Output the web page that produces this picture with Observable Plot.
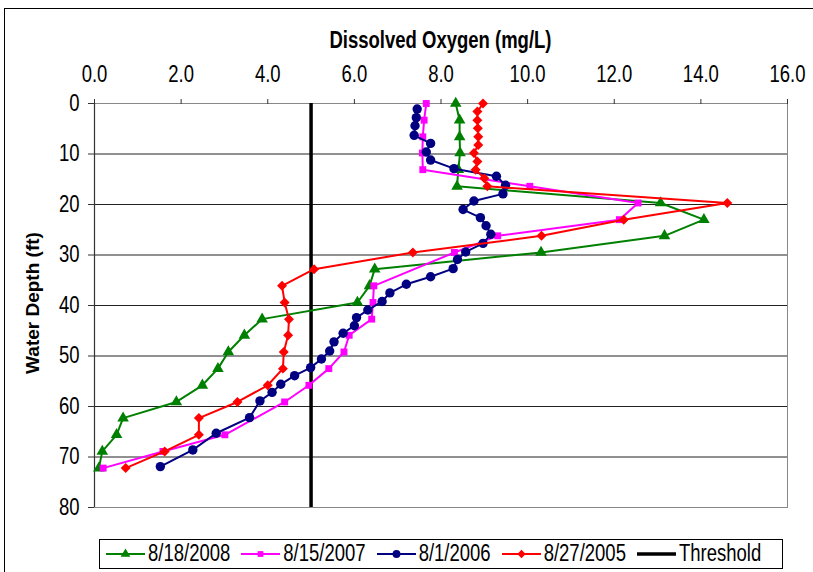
<!DOCTYPE html>
<html>
<head>
<meta charset="utf-8">
<script src="https://cdn.jsdelivr.net/npm/d3@7"></script>
<script src="https://cdn.jsdelivr.net/npm/@observablehq/plot@0.6"></script>
<style>
  html, body { margin: 0; padding: 0; background: #fff; }
  #wrap { position: relative; width: 813px; height: 572px; overflow: hidden; font-family: "Liberation Sans", Arial, sans-serif; background: #fff; }
  #outer { position: absolute; left: 4px; top: 8px; width: 900px; height: 700px; border: 1px solid #000; box-sizing: border-box; }
  #chart { position: absolute; left: 0; top: 0; }
  .title { position: absolute; left: 0; width: 881px; top: 29px; text-align: center; font-weight: bold; font-size: 18.5px; transform: scaleY(1.25); }
  .ylab { position: absolute; left: 33px; top: 303px; font-weight: bold; font-size: 19px; white-space: nowrap; transform: translate(-50%, -50%) rotate(-90deg); }
  #legend { position: absolute; left: 99px; top: 539px; width: 684px; height: 30px; border: 1px solid #000; box-sizing: border-box; display: flex; align-items: center; padding-left: 6px; gap: 11px; background: #fff; }
  .item { display: flex; align-items: center; gap: 3px; }
  .item span { display: inline-block; font-size: 18.5px; transform: scaleY(1.25); line-height: 1; }
</style>
</head>
<body>
<div id="wrap">
  <div id="outer"></div>
  <div id="chart"></div>
  <div class="title">Dissolved Oxygen (mg/L)</div>
  <div class="ylab">Water Depth (ft)</div>
  <div id="legend"></div>
</div>
<script>
// ---- Data ----
const seriesNames = ["8/18/2008", "8/15/2007", "8/1/2006", "8/27/2005"];
const xTicks = [0, 2, 4, 6, 8, 10, 12, 14, 16];
const yTicks = [0, 10, 20, 30, 40, 50, 60, 70, 80];
const threshold = 5.0;

const depth2008 = [0, 3.3, 6.6, 9.8, 13.1, 16.4, 19.7, 23.0, 26.2, 29.5, 32.8, 36.1, 39.4, 42.7, 45.9, 49.2, 52.5, 55.8, 59.1, 62.3, 65.6, 68.9, 72.2];
const do2008 = [8.34, 8.43, 8.43, 8.44, 8.40, 8.37, 13.07, 14.07, 13.16, 10.31, 6.47, 6.35, 6.07, 3.87, 3.46, 3.09, 2.85, 2.49, 1.89, 0.66, 0.51, 0.18, 0.10];

const depth2007 = [0, 3.3, 6.6, 9.8, 13.1, 16.4, 19.7, 23.0, 26.2, 29.5, 36.1, 39.4, 42.7, 45.9, 49.2, 52.5, 55.8, 59.1, 65.6, 68.9, 72.2];
const do2007 = [7.66, 7.61, 7.58, 7.57, 7.58, 10.05, 12.55, 12.12, 9.31, 8.31, 6.45, 6.43, 6.40, 5.88, 5.76, 5.41, 4.95, 4.39, 3.01, 1.58, 0.20];

const depth2006 = [1.1, 2.8, 4.4, 6.3, 7.9, 9.6, 11.2, 12.9, 14.4, 16.2, 17.9, 19.3, 21.0, 22.6, 24.2, 25.9, 27.7, 29.4, 30.9, 32.7, 34.3, 35.8, 37.5, 39.2, 40.9, 42.4, 44.0, 45.5, 47.2, 49.0, 50.6, 52.3, 53.9, 55.6, 57.2, 58.9, 62.2, 65.3, 68.6, 71.9];
const do2006 = [7.45, 7.43, 7.40, 7.38, 7.76, 7.66, 7.76, 8.30, 9.28, 9.49, 9.43, 8.76, 8.51, 8.91, 9.04, 9.15, 8.97, 8.57, 8.38, 8.28, 7.76, 7.20, 6.82, 6.64, 6.31, 6.05, 6.00, 5.74, 5.53, 5.43, 5.24, 4.99, 4.62, 4.30, 4.10, 3.82, 3.58, 2.81, 2.27, 1.52];

const depth2005 = [0, 1.6, 3.3, 4.9, 6.6, 8.2, 9.8, 11.5, 13.1, 14.8, 16.4, 19.7, 23.0, 26.2, 29.5, 32.8, 36.1, 39.4, 42.7, 45.9, 49.2, 52.5, 55.8, 59.1, 62.3, 65.6, 68.9, 72.2];
const do2005 = [8.97, 8.84, 8.84, 8.85, 8.86, 8.86, 8.76, 8.84, 8.80, 9.00, 9.07, 14.61, 12.22, 10.32, 7.35, 5.07, 4.33, 4.39, 4.49, 4.47, 4.37, 4.35, 4.00, 3.30, 2.41, 2.41, 1.62, 0.72];

// ---- Styling per series ----
const styles = [
  {name: seriesNames[0], color: "#008000", symbol: "triangle", r: 4.3, depth: depth2008, vals: do2008},
  {name: seriesNames[1], color: "#FF00FF", symbol: "square", r: 3.9, depth: depth2007, vals: do2007},
  {name: seriesNames[2], color: "#000080", symbol: "circle", r: 4.7, depth: depth2006, vals: do2006},
  {name: seriesNames[3], color: "#FF0000", symbol: "diamond2", r: 4.5, depth: depth2005, vals: do2005}
];

const font = '"Liberation Sans", Arial, sans-serif';

const seriesMarks = styles.flatMap(s => {
  const rows = s.depth.map((d, i) => ({depth: d, value: s.vals[i]}));
  return [
    Plot.line(rows, {x: "value", y: "depth", stroke: s.color, strokeWidth: 2}),
    Plot.dot(rows, {x: "value", y: "depth", fill: s.color, stroke: "none", symbol: () => s.symbol, r: s.r})
  ];
});

const chart = Plot.plot({
  width: 813,
  height: 540,
  marginTop: 103,
  marginLeft: 94,
  marginRight: 26,
  marginBottom: 33,
  style: {fontFamily: font, fontSize: "18.5px", color: "#000", background: "none", overflow: "visible"},
  x: {domain: [0, 16]},
  y: {domain: [0, 80], reverse: true},
  symbol: {type: "identity"},
  marks: [
    Plot.ruleY(yTicks, {stroke: "#222", strokeWidth: 1}),
    Plot.frame({stroke: "#888", strokeWidth: 1}),
    Plot.ruleX([0], {stroke: "#333", strokeWidth: 1.2}),
    Plot.ruleX([threshold], {y1: 0, y2: 80, stroke: "#000", strokeWidth: 3.5}),
    ...seriesMarks,
    Plot.axisX({anchor: "top", ticks: xTicks, tickFormat: d => d.toFixed(1), tickSize: 5, tickPadding: 17, label: null, stroke: "#333"}),
    Plot.axisY({anchor: "left", ticks: yTicks, tickFormat: d => String(d), tickSize: 6, tickPadding: 9, label: null, stroke: "#333"})
  ]
});

document.getElementById("chart").appendChild(chart);

// stretch tick labels vertically a bit, as in the reference
chart.querySelectorAll('g[aria-label$="tick label"] text').forEach(t => {
  const tr = t.getAttribute("transform") || "";
  t.setAttribute("transform", tr + " scale(1,1.25)");
});

// ---- Legend ----
const legend = document.getElementById("legend");
const legendItems = [...styles.map(s => ({name: s.name, color: s.color, symbol: s.symbol, r: s.r})), {name: "Threshold", color: "#000", symbol: null}];
legendItems.forEach(it => {
  const div = document.createElement("div");
  div.className = "item";
  const svg = d3.create("svg").attr("width", 39).attr("height", 14);
  svg.append("line").attr("x1", 0).attr("x2", 39).attr("y1", 7).attr("y2", 7)
    .attr("stroke", it.color).attr("stroke-width", it.symbol ? 2 : 3.5);
  if (it.symbol) {
    const symMap = {triangle: d3.symbolTriangle, square: d3.symbolSquare, circle: d3.symbolCircle, diamond2: d3.symbolDiamond2};
    svg.append("path").attr("transform", "translate(19.5,7)")
      .attr("d", d3.symbol(symMap[it.symbol], Math.PI * it.r * it.r * 0.7)())
      .attr("fill", it.color);
  }
  div.appendChild(svg.node());
  const sp = document.createElement("span");
  sp.textContent = it.name;
  div.appendChild(sp);
  legend.appendChild(div);
});
</script>
</body>
</html>
